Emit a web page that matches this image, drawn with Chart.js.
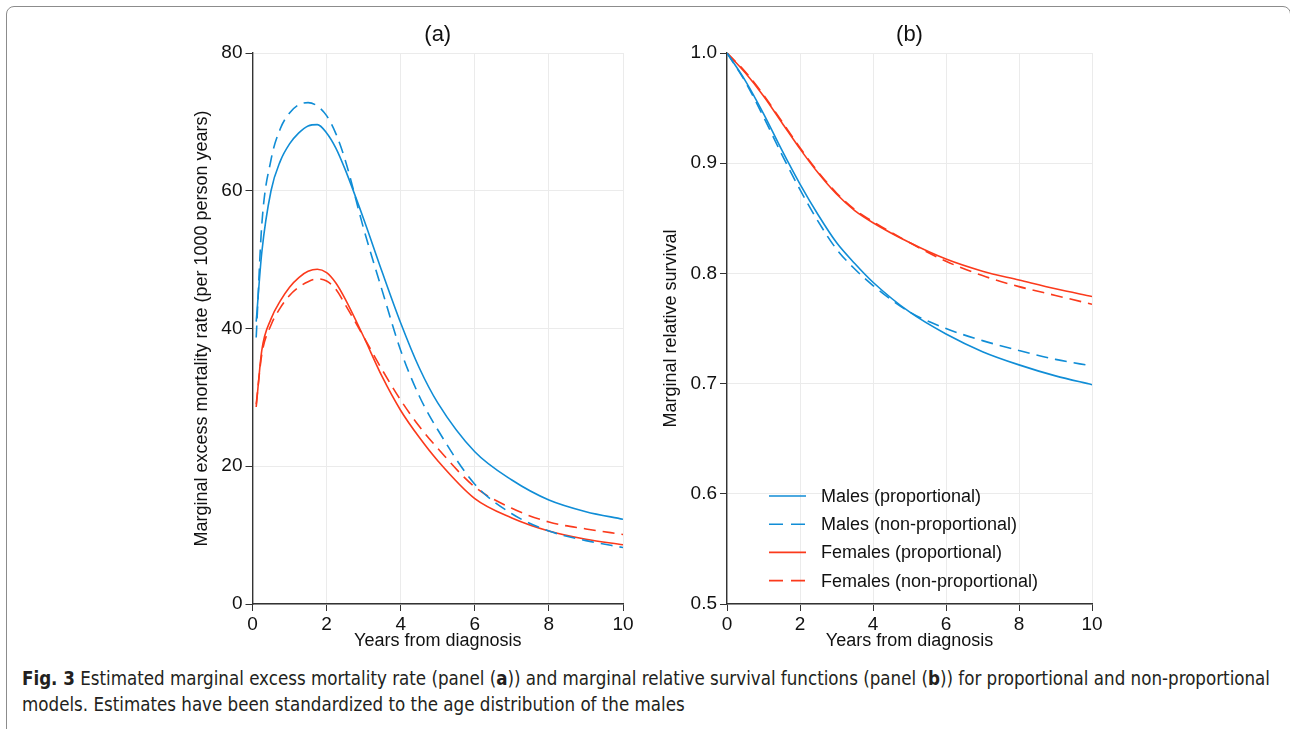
<!DOCTYPE html>
<html>
<head>
<meta charset="utf-8">
<script src="https://cdn.jsdelivr.net/npm/chart.js@4.4.1/dist/chart.umd.min.js"></script>
<style>
  html, body { margin: 0; padding: 0; background: #fff; }
  body { width: 1290px; height: 729px; position: relative; overflow: hidden; }
  #frame {
    position: absolute; left: 6px; top: 6px; width: 1285px; height: 740px;
    border: 1.5px solid #8c8c8c; border-radius: 8px; box-sizing: border-box;
  }
  .panel { position: absolute; top: 10px; width: 460px; height: 650px; }
  #panelA { left: 180px; }
  #panelB { left: 650px; }
  .caption {
    position: absolute; left: 22px; white-space: nowrap; transform-origin: 0 50%;
    font-family: "Liberation Sans Narrow", "DejaVu Sans Condensed", "Noto Sans", sans-serif;
    font-size: 20px; line-height: 23px; color: #231f20;
  }
  #cap1 { top: 667px; }
  #cap2 { top: 693px; }
</style>
</head>
<body>
<div id="frame"></div>
<div class="panel" id="panelA"><canvas id="chartA" width="460" height="650"></canvas></div>
<div class="panel" id="panelB"><canvas id="chartB" width="460" height="650"></canvas></div>
<div class="caption" id="cap1"><b>Fig. 3</b> Estimated marginal excess mortality rate (panel (<b>a</b>)) and marginal relative survival functions (panel (<b>b</b>)) for proportional and non-proportional</div>
<div class="caption" id="cap2">models. Estimates have been standardized to the age distribution of the males</div>

<script>
// Panel (a): excess mortality rate per 1000 person years
const yearsRate = [0.1, 0.25, 0.5, 0.75, 1.0, 1.25, 1.5, 1.75, 2.0, 2.25, 2.5, 3.0, 3.5, 4.0, 4.5, 5, 6, 7, 8, 9, 10];
const rateMalesProp    = [41.0, 51.0, 60.0, 64.3, 66.8, 68.4, 69.4, 69.6, 68.4, 66.2, 63.1, 55.9, 48.2, 40.8, 34.3, 29.2, 22.1, 18.0, 15.1, 13.4, 12.3];
const rateMalesNonProp = [38.7, 55.0, 64.5, 69.0, 71.3, 72.5, 72.8, 72.3, 70.9, 68.3, 64.5, 54.5, 45.5, 36.8, 30.2, 25.3, 17.4, 13.1, 10.6, 9.2, 8.2];
const rateFemProp      = [28.6, 36.8, 41.4, 44.0, 46.0, 47.4, 48.3, 48.6, 48.1, 46.6, 44.3, 38.8, 33.0, 28.1, 24.2, 20.8, 15.3, 12.5, 10.6, 9.4, 8.6];
const rateFemNonProp   = [29.0, 36.2, 40.5, 43.0, 44.8, 46.0, 46.8, 47.2, 46.9, 45.7, 43.5, 38.8, 34.0, 29.6, 25.8, 22.6, 17.0, 13.9, 11.9, 10.9, 10.1];

// Panel (b): marginal relative survival
const yearsSurv = [0, 0.5, 1, 1.5, 2, 2.5, 3, 3.5, 4, 5, 6, 7, 8, 9, 10];
const survMalesProp    = [1.0, 0.975, 0.945, 0.912, 0.881, 0.853, 0.828, 0.809, 0.792, 0.765, 0.745, 0.729, 0.717, 0.707, 0.699];
const survMalesNonProp = [1.0, 0.974, 0.942, 0.908, 0.876, 0.847, 0.822, 0.804, 0.789, 0.765, 0.750, 0.739, 0.730, 0.722, 0.716];
const survFemProp      = [1.0, 0.982, 0.961, 0.937, 0.913, 0.891, 0.872, 0.857, 0.846, 0.828, 0.813, 0.802, 0.794, 0.786, 0.779];
const survFemNonProp   = [1.0, 0.983, 0.962, 0.938, 0.914, 0.892, 0.873, 0.858, 0.847, 0.828, 0.811, 0.798, 0.788, 0.780, 0.772];

const seriesLabels = ['Males (proportional)', 'Males (non-proportional)', 'Females (proportional)', 'Females (non-proportional)'];
const xTicks = [0, 2, 4, 6, 8, 10];

const BLUE = '#108dd6';
const RED = '#fb3a1c';
const FONT = '"Liberation Sans", Arial, sans-serif';

function pairs(xs, ys) {
    return xs.map((x, i) => ({ x: x, y: ys[i] }));
}

function makeDataset(label, xs, ys, color, dashed) {
    return {
        label: label,
        data: pairs(xs, ys),
        borderColor: color,
        borderWidth: 1.6,
        borderDash: dashed ? [12, 7] : [],
        pointRadius: 0,
        fill: false,
        cubicInterpolationMode: 'monotone'
    };
}

// legend drawn inside the plot area of panel (b)
const insideLegend = {
    id: 'insideLegend',
    afterDatasetsDraw(chart, args, opts) {
        if (!opts.show) return;
        const ctx = chart.ctx;
        const area = chart.chartArea;
        ctx.save();
        chart.data.datasets.forEach((ds, i) => {
            const y = area.top + 443 + i * 28.2;
            const x0 = area.left + 42;
            ctx.strokeStyle = ds.borderColor;
            ctx.lineWidth = ds.borderWidth;
            ctx.setLineDash(ds.borderDash.length ? [14, 8] : []);
            ctx.beginPath();
            ctx.moveTo(x0, y);
            ctx.lineTo(x0 + 37, y);
            ctx.stroke();
            ctx.setLineDash([]);
            ctx.fillStyle = '#111';
            ctx.font = '18px ' + FONT;
            ctx.textBaseline = 'middle';
            ctx.textAlign = 'left';
            ctx.fillText(ds.label, x0 + 52, y + 1);
        });
        ctx.restore();
    }
};

function buildChart(canvasId, title, datasets, yOpts, yTitle, yAxisWidth, yTitlePad, padRight, showLegend) {
    const ctx = document.getElementById(canvasId).getContext('2d');
    return new Chart(ctx, {
        type: 'line',
        data: { datasets: datasets },
        plugins: [insideLegend],
        options: {
            responsive: false,
            animation: false,
            layout: { padding: { right: padRight, left: 0, bottom: 0 } },
            plugins: {
                legend: { display: false },
                tooltip: { enabled: false },
                title: {
                    display: true,
                    text: title,
                    fullSize: false,
                    color: '#111',
                    font: { family: FONT, size: 22, weight: 'normal' },
                    padding: { top: 11.8, bottom: 4.8 }
                },
                insideLegend: { show: showLegend }
            },
            scales: {
                x: {
                    type: 'linear',
                    min: 0,
                    max: 10,
                    afterBuildTicks: (scale) => { scale.ticks = xTicks.map(v => ({ value: v })); },
                    afterFit: (scale) => { scale.height = 56; },
                    grid: { color: '#ebebeb', lineWidth: 1, tickColor: '#333', tickLength: 7 },
                    border: { color: '#333', width: 1.4 },
                    ticks: { color: '#111', padding: 2, maxRotation: 0, font: { family: FONT, size: 19 } },
                    title: {
                        display: true,
                        text: 'Years from diagnosis',
                        color: '#111',
                        font: { family: FONT, size: 18 },
                        padding: { top: 0, bottom: 8.2 }
                    }
                },
                y: Object.assign({
                    type: 'linear',
                    afterFit: (scale) => { scale.width = yAxisWidth; },
                    grid: { color: '#ebebeb', lineWidth: 1, tickColor: '#333', tickLength: 7 },
                    border: { color: '#333', width: 1.4 },
                    title: {
                        display: true,
                        text: yTitle,
                        color: '#111',
                        font: { family: FONT, size: 18 },
                        padding: { top: yTitlePad, bottom: 0 }
                    }
                }, yOpts)
            }
        }
    });
}

buildChart('chartA', '(a)', [
    makeDataset(seriesLabels[0], yearsRate, rateMalesProp, BLUE, false),
    makeDataset(seriesLabels[1], yearsRate, rateMalesNonProp, BLUE, true),
    makeDataset(seriesLabels[2], yearsRate, rateFemProp, RED, false),
    makeDataset(seriesLabels[3], yearsRate, rateFemNonProp, RED, true)
], {
    min: 0,
    max: 80,
    ticks: { stepSize: 20, color: '#111', padding: 3, font: { family: FONT, size: 19 } }
}, 'Marginal excess mortality rate (per 1000 person years)', 72.5, 11.2, 17, false);

buildChart('chartB', '(b)', [
    makeDataset(seriesLabels[0], yearsSurv, survMalesProp, BLUE, false),
    makeDataset(seriesLabels[1], yearsSurv, survMalesNonProp, BLUE, true),
    makeDataset(seriesLabels[2], yearsSurv, survFemProp, RED, false),
    makeDataset(seriesLabels[3], yearsSurv, survFemNonProp, RED, true)
], {
    min: 0.5,
    max: 1.0,
    ticks: { stepSize: 0.1, color: '#111', padding: 3, font: { family: FONT, size: 19 },
             callback: (v) => v.toFixed(1) }
}, 'Marginal relative survival', 77, 10.2, 18, true);

// fit the caption lines to the text block width
const cap1 = document.getElementById('cap1');
const cap2 = document.getElementById('cap2');
const k = 1248 / cap1.getBoundingClientRect().width;
cap1.style.transform = 'scaleX(' + k + ')';
cap2.style.transform = 'scaleX(' + k + ')';
</script>
</body>
</html>
